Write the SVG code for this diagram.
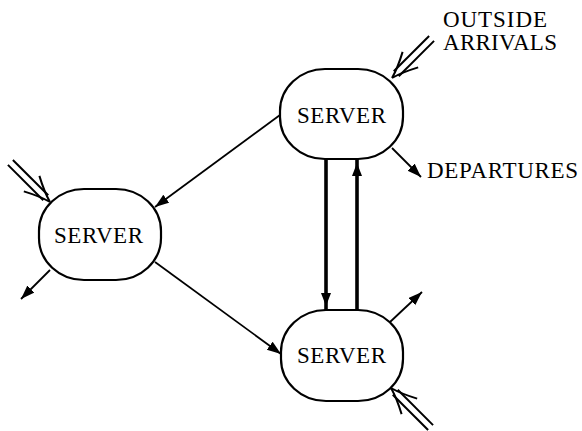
<svg xmlns="http://www.w3.org/2000/svg" width="582" height="431" viewBox="0 0 582 431">
<style>
.node{fill:#fff;stroke:#000;stroke-width:2.2}
.lbl{font-family:"Liberation Serif","DejaVu Serif",serif;font-size:23px;fill:#000}
.c{fill:none;stroke:#000;stroke-width:1.8}
.thick{fill:none;stroke:#000;stroke-width:3.6}
.dbl{fill:none;stroke:#000;stroke-width:2}
</style>
<defs>
<marker id="ah" markerUnits="userSpaceOnUse" markerWidth="15" markerHeight="11" refX="14" refY="5" orient="auto">
<path d="M0,0 L14,5 L0,10 z" fill="#000"/>
</marker>
<marker id="ahT" markerUnits="userSpaceOnUse" markerWidth="20" markerHeight="12" refX="17" refY="5" orient="auto">
<path d="M0,0 L13,5 L0,10 z" fill="#000"/>
</marker>
<g id="dblhead">
<line x1="-56" y1="-3.5" x2="-6" y2="-3.5"/>
<line x1="-56" y1="3.5" x2="-6" y2="3.5"/>
<path d="M-26,-11 Q-11,-3 0,0 M-26,11 Q-11,3 0,0"/>
</g>
</defs>
<g id="connectors">
<line class="c" x1="280" y1="115" x2="155" y2="207" marker-end="url(#ah)"/>
<line class="c" x1="155" y1="262" x2="281" y2="354" marker-end="url(#ah)"/>
<line class="c" x1="50" y1="270" x2="21" y2="299" marker-end="url(#ah)"/>
<line class="c" x1="392" y1="148" x2="421" y2="177" marker-end="url(#ah)"/>
<line class="c" x1="390" y1="322" x2="422" y2="292" marker-end="url(#ah)"/>
<line class="thick" x1="326" y1="159" x2="326" y2="310" marker-end="url(#ahT)"/>
<line class="thick" x1="357" y1="310" x2="357" y2="159" marker-end="url(#ahT)"/>
<use href="#dblhead" class="dbl" transform="translate(50,202) rotate(45)"/>
<use href="#dblhead" class="dbl" transform="translate(392,78) rotate(135)"/>
<use href="#dblhead" class="dbl" transform="translate(391,388) rotate(225)"/>
</g>
<g id="server-top">
<rect class="node" x="280" y="69" width="123" height="90" rx="45" ry="42"/>
<text class="lbl" x="297" y="123" textLength="89" lengthAdjust="spacing">SERVER</text>
</g>
<g id="server-left">
<rect class="node" x="39" y="189" width="122" height="91" rx="45" ry="42"/>
<text class="lbl" x="54" y="243" textLength="89" lengthAdjust="spacing">SERVER</text>
</g>
<g id="server-bottom">
<rect class="node" x="281" y="310" width="122" height="91" rx="45" ry="42"/>
<text class="lbl" x="297" y="363" textLength="89" lengthAdjust="spacing">SERVER</text>
</g>
<g id="labels">
<text class="lbl" x="443" y="27" textLength="104" lengthAdjust="spacing">OUTSIDE</text>
<text class="lbl" x="443" y="50" textLength="114" lengthAdjust="spacing">ARRIVALS</text>
<text class="lbl" x="427" y="178" textLength="151" lengthAdjust="spacing">DEPARTURES</text>
</g>
</svg>
